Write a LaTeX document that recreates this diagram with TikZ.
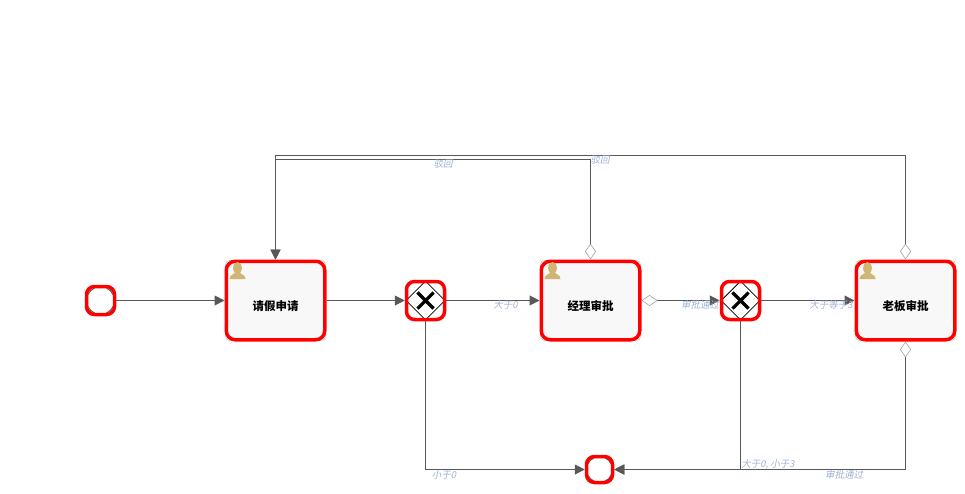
\documentclass[tikz,border=0pt]{standalone}
\usepackage{fontspec}
\usepackage{xcolor}
\usetikzlibrary{arrows.meta,shapes.geometric,shapes.misc,calc,backgrounds}
\setmainfont{Noto Sans CJK SC}
\newfontfamily\cjkslant[FakeSlant=0.2]{Noto Sans CJK SC}
\definecolor{flowred}{HTML}{FF0000}
\definecolor{flowgray}{HTML}{585858}
\definecolor{edgeblue}{HTML}{9DB3D4}
\definecolor{usertan}{HTML}{D1B574}
\definecolor{taskfill}{HTML}{F8F8F8}
\tikzset{
  taskbox/.style={
    rectangle, draw=flowred, fill=taskfill, line width=3.5pt, rounded corners=9pt,
    minimum width=98.5pt, minimum height=78.5pt, inner sep=0pt,
    font=\fontsize{11.5}{11.5}\selectfont\bfseries, text height=19pt, text depth=0pt
  },
  taskback/.style={
    rectangle, draw=flowgray!30, line width=0.7pt, rounded corners=4pt,
    minimum width=100pt, minimum height=80pt, inner sep=0pt
  },
  gatebox/.style={
    rectangle, draw=flowred, line width=3.5pt, rounded corners=8pt,
    minimum size=38pt, inner sep=0pt
  },
  gatediamond/.style={
    diamond, draw=black, fill=white, line width=0.8pt,
    minimum size=39pt, inner sep=0pt
  },
  gatecross/.style={
    cross out, draw=black, line width=3.2pt, minimum size=13pt, inner sep=0pt
  },
  eventbox/.style={
    rectangle, draw=flowred, line width=3.5pt, rounded corners=8pt,
    minimum size=#1, inner sep=0pt
  },
  eventbox/.default=28pt,
  eventback/.style={
    circle, draw=flowgray, line width=1pt, minimum size=#1, inner sep=0pt
  },
  eventback/.default=28pt,
  flowarrow/.style={
    -{Triangle[length=10pt, width=10pt, color=flowgray]}, line width=1pt, color=flowgray
  },
  condarrow/.style={
    {Diamond[length=16pt, width=11pt, fill=white, color=flowgray!55, line width=0.6pt]}-{Triangle[length=10pt, width=10pt, color=flowgray]},
    line width=1pt, color=flowgray
  },
  labelnode/.style={
    font=\fontsize{9.5}{10}\selectfont\cjkslant, text=edgeblue, inner sep=0pt
  },
  pics/usericon/.style={
    code={
      \fill[usertan] (0pt,-5.5pt) ellipse (4.4pt and 6pt);
      \fill[usertan] (-8pt,-16.5pt) .. controls (-8pt,-12pt) and (-3pt,-12pt) .. (-2.5pt,-10pt)
        -- (2.5pt,-10pt) .. controls (3pt,-12pt) and (8pt,-12pt) .. (8pt,-16.5pt) -- cycle;
    }
  },
}
\begin{document}
\begin{tikzpicture}
  \useasboundingbox (0pt,0pt) rectangle (965pt,-493pt);

  % Events
  \node[eventbox] at (100.5pt,-300.5pt) (start) {};
  \node[eventbox=26pt] at (599.5pt,-469.5pt) (end) {};

  % Tasks
  \node[taskbox] at (275.5pt,-300.5pt) (task1) {请假申请};
  \node[taskbox] at ([xshift=315pt]task1.center) (task2) {经理审批};
  \node[taskbox] at ([xshift=315pt]task2.center) (task3) {老板审批};

  % Gateways
  \foreach \gw/\gx in {gate1/425.5pt, gate2/740.5pt} {
    \node[gatediamond] at (\gx,-300.5pt) (\gw diamond) {};
    \node[gatecross] at (\gw diamond.center) (\gw cross) {};
    \node[gatebox] at (\gw diamond.center) (\gw) {};
  }

  % Grey shapes under the red outlines
  \begin{scope}[on background layer]
    \foreach \t in {task1,task2,task3}
      \node[taskback] at (\t.center) (\t back) {};
    \node[eventback] at (start.center) (startback) {};
    \node[eventback=26pt] at (end.center) (endback) {};
  \end{scope}

  % User icons
  \foreach \t in {task1,task2,task3}
    \pic at ([xshift=13pt, yshift=-3pt]\t.north west) {usericon};

  % Main line
  \draw[flowarrow] (start) -- (task1);
  \draw[flowarrow] (task1) -- (gate1);
  \draw[flowarrow] (gate1) -- (task2);
  \draw[condarrow] (task2) -- (gate2);
  \draw[flowarrow] (gate2) -- (task3);

  % Down to the end event
  \draw[flowarrow] (gate1) |- (end);
  \draw[flowarrow] (gate2) |- (end);
  \draw[condarrow] (task3) |- (end);

  % Back to the first task
  \coordinate (backA) at (275.5pt,-159pt);
  \coordinate (backB) at (275.5pt,-155pt);
  \draw[condarrow] (task2) |- (backA) -- (task1);
  \draw[condarrow] (task3) |- (backB) -- (task1);

  % Edge labels
  \node[labelnode] at (443pt,-164pt) (rejectA) {驳回};
  \node[labelnode] at (600pt,-160pt) (rejectB) {驳回};
  \node[labelnode] at (505.5pt,-305pt) (moreA) {大于0};
  \node[labelnode] at (700pt,-305pt) (passA) {审批通过};
  \node[labelnode] at (831pt,-305pt) (moreB) {大于等于3};
  \node[labelnode] at (444pt,-475pt) (less) {小于0};
  \node[labelnode] at (768pt,-464pt) (between) {大于0, 小于3};
  \node[labelnode] at (844pt,-475pt) (passB) {审批通过};
\end{tikzpicture}
\end{document}
